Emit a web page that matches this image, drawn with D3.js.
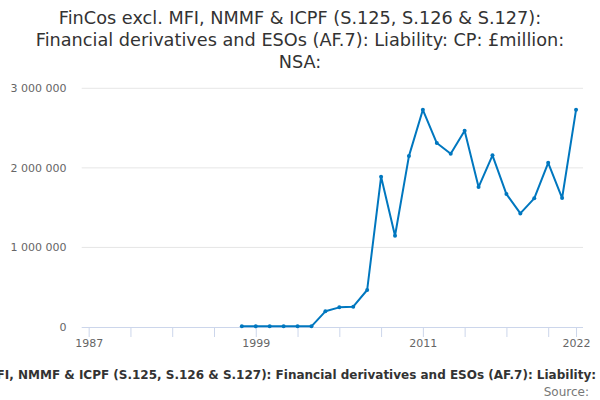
<!DOCTYPE html>
<html><head><meta charset="utf-8">
<script src="https://cdn.jsdelivr.net/npm/d3@7"></script>
<style>body{margin:0;background:#fff}svg{display:block;font-family:"DejaVu Sans",sans-serif}</style>
</head><body><svg id="c" width="600" height="400"></svg>
<script>
const titleLines = ["FinCos excl. MFI, NMMF & ICPF (S.125, S.126 & S.127):", "Financial derivatives and ESOs (AF.7): Liability: CP: £million:", "NSA:"];
const seriesName = "FinCos excl. MFI, NMMF & ICPF (S.125, S.126 & S.127): Financial derivatives and ESOs (AF.7): Liability: CP: £million: NSA:";
const years = [1998,1999,2000,2001,2002,2003,2004,2005,2006,2007,2008,2009,2010,2011,2012,2013,2014,2015,2016,2017,2018,2019,2020,2021,2022];
const values = [8000,8000,8000,8000,8000,8000,197000,247000,255000,465000,1888000,1147000,2148000,2730000,2312000,2177000,2466000,1759000,2157000,1671000,1428000,1617000,2064000,1621000,2730000];
const xTickYears = [1987,1990,1993,1996,1999,2002,2005,2008,2011,2014,2017,2020,2022];
const xLabelYears = [1987,1999,2011,2022];
const yTicks = [0,1000000,2000000,3000000];

const svg = d3.select("#c");
const L = 81.7, R = 583, T = 88.3, B = 327;
const x = d3.scaleLinear().domain([1986.5, 2022.5]).range([L, R]);
const y = d3.scaleLinear().domain([0, 3000000]).range([B, T]);
const fmt = v => d3.format(",")(v).replace(/,/g, " ");

// title
svg.append("text").attr("text-anchor","middle").attr("fill","#333333").style("font-size","17.7px")
  .selectAll("tspan").data(titleLines).join("tspan")
  .attr("x",300).attr("y",(d,i)=>24+i*22).text(d=>d);

// grid
svg.append("g").selectAll("line").data(yTicks.filter(d=>d>0)).join("line")
  .attr("x1",L).attr("x2",R).attr("y1",d=>y(d)).attr("y2",d=>y(d))
  .attr("stroke","#e6e6e6").attr("stroke-width",1);

// y labels
svg.append("g").selectAll("text").data(yTicks).join("text")
  .attr("x",66.5).attr("y",d=>y(d)+4).attr("text-anchor","end")
  .attr("fill","#666666").style("font-size","11px").text(fmt);

// x axis
const xAxis = d3.axisBottom(x).tickValues(xTickYears).tickSize(10)
  .tickFormat(d => xLabelYears.includes(d) ? String(d) : "");
const gx = svg.append("g").attr("transform",`translate(0,${B})`).call(xAxis);
gx.select(".domain").attr("stroke","#ccd6eb").attr("d",`M${L},0.5H${R}`);
gx.selectAll(".tick line").attr("stroke","#ccd6eb");
gx.selectAll(".tick text").attr("fill","#666666").style("font-size","11px")
  .style("font-family","DejaVu Sans").attr("y",12).attr("dy","0.71em");

// line
const data = years.map((yr,i)=>({yr, v:values[i]}));
svg.append("path").datum(data)
  .attr("d", d3.line().x(d=>x(d.yr)).y(d=>y(d.v)))
  .attr("fill","none").attr("stroke","#0077bf").attr("stroke-width",2)
  .attr("stroke-linejoin","round");
svg.append("g").selectAll("circle").data(data).join("circle")
  .attr("cx",d=>x(d.yr)).attr("cy",d=>y(d.v)).attr("r",2).attr("fill","#0077bf");

// legend: position so that "...Liability:" ends near the right edge, as in the reference
const leg = svg.append("text").attr("y",379).attr("text-anchor","start")
  .attr("fill","#333333").style("font-size","12px").style("font-weight","bold");
const prefix = seriesName.slice(0, seriesName.indexOf("Liability:") + "Liability:".length);
leg.text(prefix);
const pw = leg.node().getComputedTextLength();
leg.attr("x", 596 - pw).text(seriesName);

// source
svg.append("text").attr("x",589).attr("y",396).attr("text-anchor","end")
  .attr("fill","#777777").style("font-size","12px").text("Source:");
</script></body></html>
